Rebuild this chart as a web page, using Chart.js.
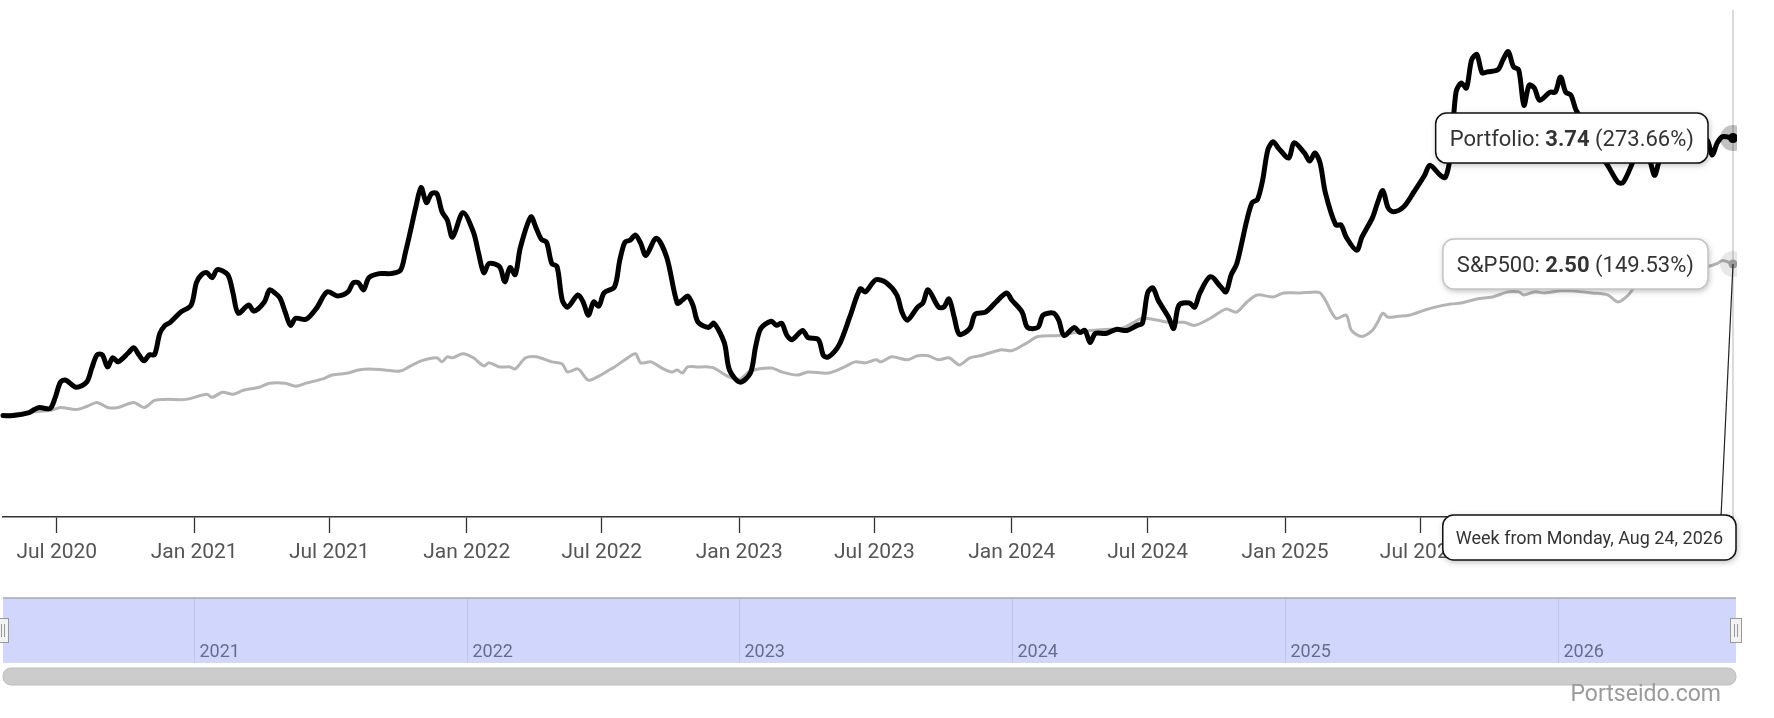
<!DOCTYPE html>
<html>
<head>
<meta charset="utf-8">
<title>Portfolio vs S&amp;P500</title>
<script src="https://cdn.jsdelivr.net/npm/chart.js@4.4.1/dist/chart.umd.min.js"></script>
<style>
  html, body { margin: 0; padding: 0; background: #fff; }
  #wrap { position: relative; width: 1774px; height: 718px; }
</style>
</head>
<body>
<div id="wrap"><canvas id="growthChart" width="1774" height="718"></canvas></div>
<script>
// weekly data, x = week number counted from Monday Apr 20, 2020
const startMonday = Date.UTC(2020, 3, 20);
const WEEK = 7 * 86400000;
const lastWeek = 331;

const portfolioWeeks = [0,2,5,6,7,9,10,11,12,14,16,17,18,19,20,21,22,24,25,26,27,28,29,30,31,32,34,36,37,38,39,40,41,43,44,45,47,48,50,51,52,53,54,55,56,58,60,62,64,66,67,68,69,70,72,74,76,77,78,79,80,81,82,83,84,85,86,88,90,91,92,93,95,96,97,98,99,101,102,103,104,105,106,107,108,110,111,112,113,114,115,117,118,119,120,121,122,123,125,127,129,130,131,132,133,135,136,138,139,141,143,144,145,147,148,149,150,151,153,154,156,157,158,160,162,164,165,167,169,171,172,173,175,176,177,179,180,181,182,183,185,186,188,190,192,193,195,196,198,199,201,202,203,205,206,207,208,209,211,213,215,217,218,219,220,221,223,224,225,227,228,229,231,233,234,235,236,237,238,239,240,241,242,243,244,246,247,249,250,251,252,253,255,256,257,259,260,262,263,264,265,266,268,270,272,273,275,276,277,278,279,280,281,282,283,284,286,287,288,289,290,291,292,293,294,296,297,298,299,300,301,304,305,307,309,310,312,313,315,316,317,319,322,324,326,327,328,329,331];
const portfolioValues = [1.00,1.00,1.03,1.06,1.08,1.07,1.18,1.33,1.35,1.28,1.33,1.47,1.60,1.60,1.48,1.57,1.53,1.62,1.67,1.60,1.54,1.60,1.60,1.81,1.89,1.92,2.02,2.09,2.31,2.39,2.41,2.36,2.44,2.39,2.21,2.01,2.09,2.03,2.12,2.24,2.21,2.16,2.02,1.89,1.96,1.95,2.06,2.22,2.18,2.22,2.31,2.31,2.24,2.36,2.40,2.40,2.43,2.61,2.83,3.06,3.25,3.10,3.19,3.19,3.01,2.93,2.76,3.00,2.81,2.60,2.41,2.50,2.47,2.32,2.46,2.39,2.66,2.96,2.85,2.74,2.71,2.50,2.47,2.14,2.07,2.19,2.12,1.99,2.12,2.08,2.21,2.27,2.53,2.71,2.73,2.78,2.70,2.58,2.75,2.56,2.11,2.14,2.18,2.09,1.92,1.87,1.91,1.72,1.45,1.33,1.42,1.68,1.86,1.93,1.89,1.91,1.79,1.75,1.84,1.77,1.75,1.59,1.58,1.70,1.97,2.25,2.22,2.34,2.31,2.19,2.02,1.94,2.07,2.11,2.24,2.07,2.07,2.15,1.97,1.80,1.86,2.00,2.02,2.12,2.21,2.14,2.02,1.87,1.87,1.99,2.01,1.94,1.79,1.87,1.82,1.84,1.72,1.81,1.81,1.85,1.84,1.89,1.91,2.21,2.26,2.14,1.97,1.86,2.09,2.11,2.07,2.21,2.37,2.27,2.22,2.39,2.49,2.70,2.93,3.10,3.13,3.32,3.62,3.70,3.64,3.54,3.69,3.59,3.51,3.59,3.49,3.20,2.88,2.88,2.76,2.63,2.76,2.95,3.10,3.22,3.05,3.01,3.06,3.21,3.37,3.47,3.37,3.35,3.59,4.19,4.28,4.23,4.51,4.56,4.38,4.39,4.41,4.51,4.59,4.44,4.41,4.06,4.26,4.23,4.11,4.19,4.19,4.34,4.19,4.16,4.01,3.77,3.62,3.47,3.30,3.30,3.52,3.64,3.52,3.37,3.52,3.64,3.70,3.67,3.72,3.57,3.69,3.75,3.7366];

const sp500Weeks = [0,6,9,11,14,16,18,20,22,25,27,29,31,35,39,40,42,44,46,49,51,54,56,58,61,63,66,68,70,73,76,78,80,83,84,85,86,88,90,92,93,95,97,98,100,102,105,107,108,110,112,114,116,117,119,121,122,124,126,128,129,130,131,133,135,136,139,141,143,147,149,152,154,158,161,163,165,167,168,170,173,175,177,179,181,183,185,187,191,193,196,198,202,204,208,211,214,216,218,221,223,226,228,231,234,236,238,240,243,245,248,251,252,253,255,257,258,260,262,263,264,265,267,269,272,274,277,279,282,285,288,290,291,293,295,298,300,304,307,309,311,312,313,315,318,321,324,326,328,329,331];
const sp500Values = [1.00,1.04,1.05,1.08,1.06,1.09,1.13,1.08,1.08,1.13,1.08,1.15,1.16,1.16,1.21,1.18,1.23,1.21,1.25,1.28,1.32,1.32,1.29,1.32,1.36,1.40,1.42,1.45,1.46,1.45,1.44,1.49,1.54,1.57,1.53,1.58,1.57,1.61,1.57,1.49,1.52,1.48,1.48,1.46,1.57,1.58,1.53,1.51,1.43,1.46,1.35,1.39,1.45,1.48,1.55,1.61,1.52,1.53,1.47,1.43,1.45,1.42,1.48,1.48,1.48,1.47,1.38,1.36,1.44,1.47,1.43,1.40,1.43,1.42,1.48,1.53,1.52,1.55,1.53,1.58,1.55,1.59,1.59,1.55,1.57,1.50,1.57,1.59,1.65,1.64,1.72,1.78,1.79,1.81,1.84,1.85,1.86,1.91,1.96,1.94,1.92,1.92,1.89,1.96,2.05,2.02,2.12,2.19,2.17,2.21,2.21,2.22,2.21,2.14,1.96,1.99,1.84,1.78,1.84,1.92,2.01,1.97,1.98,1.99,2.04,2.07,2.10,2.11,2.15,2.17,2.22,2.22,2.19,2.22,2.21,2.23,2.23,2.21,2.19,2.12,2.19,2.26,2.32,2.39,2.44,2.48,2.50,2.47,2.50,2.53,2.4953];

const axisTickDates = ["2020-07-01","2021-01-01","2021-07-01","2022-01-01","2022-07-01","2023-01-01","2023-07-01","2024-01-01","2024-07-01","2025-01-01","2025-07-01","2026-01-01","2026-07-01"];
const navigatorYears = [2021, 2022, 2023, 2024, 2025, 2026];
const monthNames = ["Jan","Feb","Mar","Apr","May","Jun","Jul","Aug","Sep","Oct","Nov","Dec"];
const dayNames = ["Sunday","Monday","Tuesday","Wednesday","Thursday","Friday","Saturday"];

const FONT = 'Roboto, "Liberation Sans", Arial, sans-serif';

function toPoints(weeks, values) {
  return weeks.map((w, i) => ({ x: startMonday + w * WEEK, y: values[i] }));
}

function roundBox(ctx, x, y, w, h, r, stroke, shadow) {
  ctx.save();
  ctx.beginPath();
  ctx.roundRect(x, y, w, h, r);
  ctx.shadowColor = shadow;
  ctx.shadowBlur = 6;
  ctx.shadowOffsetX = 1;
  ctx.shadowOffsetY = 2;
  ctx.fillStyle = '#fff';
  ctx.fill();
  ctx.shadowColor = 'transparent';
  ctx.lineWidth = 1.5;
  ctx.strokeStyle = stroke;
  ctx.stroke();
  ctx.restore();
}

function drawParts(ctx, parts, x, y, size) {
  let cx = x;
  parts.forEach(p => {
    ctx.font = (p.bold ? 'bold ' : '') + size + 'px ' + FONT;
    ctx.fillText(p.text, cx, y);
    cx += ctx.measureText(p.text).width;
  });
}

function partsWidth(ctx, parts, size) {
  let w = 0;
  parts.forEach(p => {
    ctx.font = (p.bold ? 'bold ' : '') + size + 'px ' + FONT;
    w += ctx.measureText(p.text).width;
  });
  return w;
}

function lastPoint(chart, i) {
  const d = chart.getDatasetMeta(i).data;
  return d[d.length - 1];
}

const overlay = {
  id: 'overlay',
  beforeDatasetsDraw(chart) {
    const { ctx, chartArea: a } = chart;
    ctx.save();
    ctx.strokeStyle = '#cfcfcf';
    ctx.lineWidth = 1.5;
    ctx.beginPath();
    ctx.moveTo(a.right, a.top);
    ctx.lineTo(a.right, a.bottom);
    ctx.stroke();
    ctx.restore();
  },
  afterDatasetsDraw(chart) {
    const { ctx, chartArea: a } = chart;
    const sp = lastPoint(chart, 0), pf = lastPoint(chart, 1);
    ctx.save();
    ctx.beginPath();
    ctx.rect(a.left, a.top - 20, a.right + 4 - a.left, a.bottom - a.top + 40);
    ctx.clip();
    ctx.fillStyle = 'rgba(0,0,0,0.09)';
    ctx.beginPath(); ctx.arc(sp.x, sp.y, 13, 0, Math.PI * 2); ctx.fill();
    ctx.fillStyle = 'rgba(0,0,0,0.24)';
    ctx.beginPath(); ctx.arc(pf.x, pf.y, 13, 0, Math.PI * 2); ctx.fill();
    ctx.fillStyle = '#9a9a9a';
    ctx.beginPath(); ctx.arc(sp.x, sp.y, 4.5, 0, Math.PI * 2); ctx.fill();
    ctx.fillStyle = '#000';
    ctx.beginPath(); ctx.arc(pf.x, pf.y, 5, 0, Math.PI * 2); ctx.fill();
    ctx.restore();
  },
  afterDraw(chart) {
    const { ctx, chartArea: a, scales: { x } } = chart;
    const navLeft = a.left, navRight = a.right + 3;
    const navTop = a.bottom + 81, navBottom = navTop + 65;

    // navigator
    ctx.save();
    ctx.fillStyle = '#d1d6fc';
    ctx.fillRect(navLeft, navTop, navRight - navLeft, navBottom - navTop);
    ctx.strokeStyle = '#bfc5ee';
    ctx.lineWidth = 1;
    ctx.font = '18px ' + FONT;
    ctx.textBaseline = 'alphabetic';
    navigatorYears.forEach(yr => {
      const px = Math.round(x.getPixelForValue(Date.UTC(yr, 0, 1))) + 0.5;
      ctx.beginPath(); ctx.moveTo(px, navTop); ctx.lineTo(px, navBottom); ctx.stroke();
      ctx.fillStyle = '#676c8e';
      ctx.fillText(String(yr), px + 5, navBottom - 6);
    });
    ctx.strokeStyle = '#a8a8a8';
    ctx.lineWidth = 1.6;
    ctx.beginPath(); ctx.moveTo(navLeft, navTop); ctx.lineTo(navRight, navTop); ctx.stroke();
    // handles
    [navLeft, navRight].forEach(hx => {
      ctx.fillStyle = '#f2f2f2';
      ctx.strokeStyle = '#999';
      ctx.lineWidth = 1;
      ctx.fillRect(hx - 6, navTop + 20, 12, 25);
      ctx.strokeRect(hx - 5.5, navTop + 20.5, 11, 24);
      ctx.beginPath();
      ctx.moveTo(hx - 1.5, navTop + 26); ctx.lineTo(hx - 1.5, navTop + 39);
      ctx.moveTo(hx + 1.5, navTop + 26); ctx.lineTo(hx + 1.5, navTop + 39);
      ctx.stroke();
    });
    // scrollbar
    ctx.beginPath();
    ctx.roundRect(navLeft, navBottom + 5, navRight - navLeft, 17, 8);
    ctx.fillStyle = '#cccccc';
    ctx.fill();
    ctx.strokeStyle = '#bdbdbd';
    ctx.lineWidth = 1;
    ctx.stroke();
    // credit
    ctx.fillStyle = '#9a9a9a';
    ctx.font = '23px ' + FONT;
    ctx.textAlign = 'right';
    ctx.fillText('Portseido.com', navRight - 15, navBottom + 38);
    ctx.restore();

    // tooltips
    const sp = lastPoint(chart, 0), pf = lastPoint(chart, 1);
    const spVal = sp500Values[sp500Values.length - 1];
    const pfVal = portfolioValues[portfolioValues.length - 1];
    ctx.save();
    ctx.strokeStyle = '#222';
    ctx.lineWidth = 1.2;
    ctx.beginPath();
    ctx.moveTo(sp.x, sp.y);
    ctx.lineTo(sp.x - 12, a.bottom);
    ctx.stroke();

    const size = 22;
    ctx.textBaseline = 'alphabetic';
    ctx.fillStyle = '#333';
    const rows = [
      { pt: sp, name: 'S&P500', v: spVal, stroke: '#c4c4c4' },
      { pt: pf, name: 'Portfolio', v: pfVal, stroke: '#111' }
    ];
    rows.forEach(r => {
      const parts = [
        { text: r.name + ': ', bold: false },
        { text: r.v.toFixed(2), bold: true },
        { text: ' (' + ((r.v - 1) * 100).toFixed(2) + '%)', bold: false }
      ];
      const w = partsWidth(ctx, parts, size) + 28;
      const h = 50;
      const bx = r.pt.x - 25 - w, by = r.pt.y - h / 2;
      roundBox(ctx, bx, by, w, h, 11, r.stroke, 'rgba(0,0,0,0.28)');
      ctx.fillStyle = '#333';
      drawParts(ctx, parts, bx + 14, r.pt.y + 8, size);
    });

    // date header
    const d = new Date(startMonday + lastWeek * WEEK);
    const header = 'Week from ' + dayNames[d.getUTCDay()] + ', ' + monthNames[d.getUTCMonth()] + ' ' +
      d.getUTCDate() + ', ' + d.getUTCFullYear();
    ctx.font = '18px ' + FONT;
    const hw = ctx.measureText(header).width + 26;
    const hx = navRight - hw, hy = a.bottom - 2;
    roundBox(ctx, hx, hy, hw, 45, 11, '#111', 'rgba(0,0,0,0.28)');
    ctx.fillStyle = '#333';
    ctx.font = '18px ' + FONT;
    ctx.fillText(header, hx + 13, hy + 29);
    ctx.restore();
  }
};

const chart = new Chart(document.getElementById('growthChart').getContext('2d'), {
  type: 'line',
  data: {
    datasets: [
      { label: 'S&P500', data: toPoints(sp500Weeks, sp500Values), borderColor: '#b4b4b4', borderWidth: 3,
        pointRadius: 0, tension: 0.3, clip: 8, order: 2, borderJoinStyle: 'round', borderCapStyle: 'round' },
      { label: 'Portfolio', data: toPoints(portfolioWeeks, portfolioValues), borderColor: '#000', borderWidth: 5,
        pointRadius: 0, tension: 0.3, clip: 8, order: 1, borderJoinStyle: 'round', borderCapStyle: 'round' }
    ]
  },
  options: {
    responsive: false,
    animation: false,
    events: [],
    layout: { padding: { left: 3, right: 41, top: 10, bottom: 0 } },
    plugins: { legend: { display: false }, tooltip: { enabled: false } },
    scales: {
      x: {
        type: 'linear',
        min: startMonday,
        max: startMonday + lastWeek * WEEK,
        afterBuildTicks: s => { s.ticks = axisTickDates.map(t => ({ value: Date.parse(t) })); },
        afterFit: s => { s.height = 201; },
        grid: { drawOnChartArea: false, drawTicks: true, tickLength: 16, color: '#333', tickWidth: 1.3 },
        border: { display: true, color: '#333', width: 1.5 },
        ticks: {
          padding: 7, color: '#555', maxRotation: 0, autoSkip: false,
          font: { family: FONT, size: 21 },
          callback: v => { const d = new Date(v); return monthNames[d.getUTCMonth()] + ' ' + d.getUTCFullYear(); }
        }
      },
      y: { display: false, min: 0, max: 5 }
    }
  },
  plugins: [overlay]
});
</script>
</body>
</html>
